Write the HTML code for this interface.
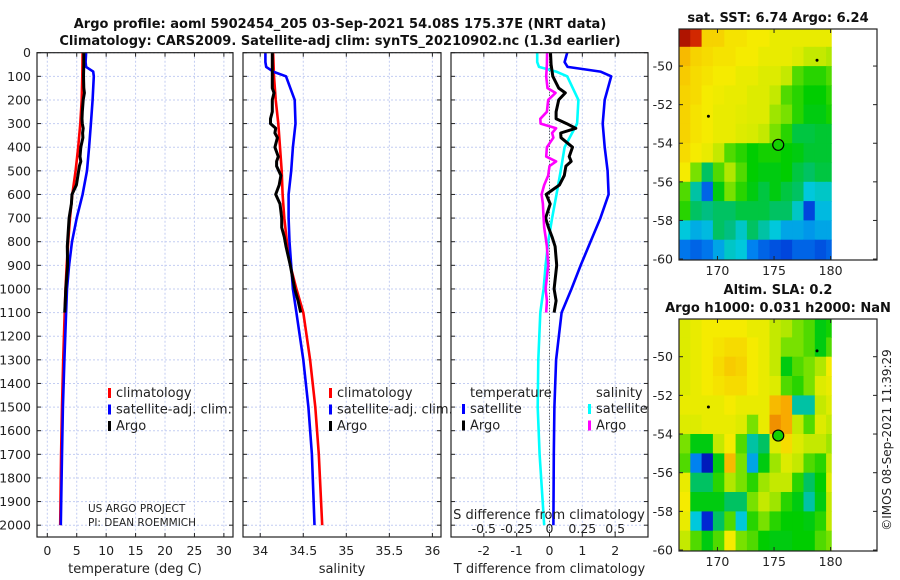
<!DOCTYPE html>
<html><head><meta charset="utf-8">
<style>
html,body{margin:0;padding:0;background:#fff;}
svg{display:block;font-family:"DejaVu Sans","Liberation Sans",sans-serif;}
</style></head>
<body>
<svg id="fig" width="900" height="580" viewBox="0 0 900 580" xmlns="http://www.w3.org/2000/svg">
<rect width="900" height="580" fill="#fff"/>
<text x="340" y="28" font-size="13" font-weight="bold" text-anchor="middle" fill="#111">Argo profile: aoml 5902454_205 03-Sep-2021 54.08S 175.37E (NRT data)</text>
<text x="340" y="45" font-size="13" font-weight="bold" text-anchor="middle" fill="#111">Climatology: CARS2009. Satellite-adj clim: synTS_20210902.nc (1.3d earlier)</text>
<text x="778" y="22" font-size="13" font-weight="bold" text-anchor="middle" fill="#111">sat. SST: 6.74 Argo: 6.24</text>
<text x="778" y="294" font-size="13" font-weight="bold" text-anchor="middle" fill="#111">Altim. SLA: 0.2</text>
<text x="778" y="312" font-size="13" font-weight="bold" text-anchor="middle" fill="#111">Argo h1000: 0.031 h2000: NaN</text>
<text transform="translate(891,440) rotate(-90)" font-size="12" text-anchor="middle" fill="#222">©IMOS 08-Sep-2021 11:39:29</text>
<g id="layer"></g>
</svg>
<script>
// ---------- data ----------
const depthTicks=[0,100,200,300,400,500,600,700,800,900,1000,1100,1200,1300,1400,1500,1600,1700,1800,1900,2000];
const tempTicks=[0,5,10,15,20,25,30];
const salTicks=[34,34.5,35,35.5,36];
const salTickLabels=["34","34.5","35","35.5","36"];
const tdiffTicks=[-2,-1,0,1,2];
const sdiffTicks=[-0.5,-0.25,0,0.25,0.5];
const sdiffTickLabels=["-0.5","-0.25","0","0.25","0.5"];

const climDepth=[0,100,200,300,400,500,600,700,800,900,1000,1100,1300,1500,1700,2000];
const climTemp=[6.0,5.95,5.85,5.6,5.25,4.8,4.25,3.85,3.55,3.3,3.1,2.95,2.7,2.5,2.35,2.2];
const climSal=[34.15,34.16,34.18,34.21,34.23,34.25,34.26,34.28,34.31,34.35,34.42,34.5,34.58,34.64,34.68,34.72];

const satDepth=[0,40,60,80,100,200,300,400,500,600,700,800,900,1000,1100,1300,1500,1700,2000];
const satTemp=[6.6,6.5,6.6,7.8,7.9,7.7,7.4,7.1,6.75,6.0,5.0,4.2,3.7,3.35,3.2,2.9,2.65,2.5,2.3];
const satSal=[34.06,34.06,34.07,34.15,34.3,34.4,34.41,34.38,34.36,34.33,34.33,34.34,34.36,34.38,34.42,34.5,34.56,34.6,34.63];

const argoDepth=[0,50,100,150,170,200,250,280,300,320,340,360,400,440,460,480,520,560,600,640,700,740,780,820,900,1000,1050,1100];
const argoTemp=[6.2,6.2,6.15,6.2,6.3,6.1,5.95,5.9,5.95,6.1,6.0,6.05,5.7,5.55,5.7,5.45,5.2,4.95,4.2,4.1,3.7,3.6,3.5,3.4,3.45,3.15,3.05,2.95];
const argoSal=[34.14,34.14,34.14,34.14,34.16,34.14,34.14,34.12,34.12,34.18,34.17,34.2,34.17,34.21,34.19,34.19,34.24,34.22,34.18,34.23,34.25,34.25,34.28,34.3,34.35,34.4,34.44,34.47];

const satTdiff=[0.54,0.46,0.55,1.55,1.88,1.68,1.62,1.68,1.77,1.8,1.55,1.25,0.95,0.67,0.37,0.2,0.15,0.13,0.12];
const satSdiff=[-0.094,-0.094,-0.08,0.05,0.135,0.22,0.21,0.115,0.085,0.053,0.02,-0.01,-0.03,-0.045,-0.07,-0.085,-0.09,-0.075,-0.04];
const argoTdiff=[0.03,0.05,0.1,0.28,0.48,0.28,0.2,0.2,0.52,0.8,0.34,0.35,0.7,0.6,0.66,0.5,0.45,0.3,-0.1,0.02,-0.12,-0.03,0.08,0.17,0.22,0.14,0.2,0.14];
const argoSdiff=[-0.018,-0.02,-0.025,-0.015,0.046,-0.01,-0.02,-0.07,-0.068,0.05,0.02,0.03,-0.02,-0.025,0.05,0.0,-0.01,-0.04,-0.06,-0.05,-0.045,-0.04,-0.03,-0.02,-0.01,-0.03,-0.02,-0.025];

const mapLonTicks=[170,175,180];
const mapLatTicks=[-50,-52,-54,-56,-58,-60];
const sstGrid=[
[0.95,0.9,0.75,0.75,0.73,0.73,0.72,0.72,0.7,0.7,0.7,0.7,0.7,0.7],
[0.78,0.75,0.74,0.73,0.73,0.72,0.72,0.7,0.7,0.7,0.68,0.66,0.66,0.65],
[0.76,0.74,0.73,0.72,0.72,0.7,0.7,0.68,0.68,0.66,0.6,0.58,0.58,0.6],
[0.75,0.74,0.72,0.71,0.7,0.7,0.68,0.68,0.66,0.6,0.58,0.56,0.56,0.58],
[0.75,0.73,0.72,0.7,0.7,0.69,0.68,0.68,0.64,0.62,0.58,0.55,0.55,0.57],
[0.75,0.73,0.72,0.7,0.7,0.68,0.67,0.66,0.62,0.58,0.52,0.52,0.53,0.53],
[0.74,0.72,0.7,0.66,0.6,0.58,0.56,0.57,0.57,0.56,0.55,0.53,0.53,0.53],
[0.72,0.62,0.5,0.6,0.65,0.6,0.56,0.55,0.55,0.56,0.52,0.5,0.52,0.52],
[0.6,0.45,0.25,0.55,0.62,0.58,0.55,0.52,0.55,0.52,0.5,0.4,0.42,0.42],
[0.58,0.5,0.48,0.5,0.5,0.52,0.52,0.52,0.5,0.5,0.42,0.2,0.38,0.38],
[0.4,0.36,0.38,0.5,0.48,0.42,0.5,0.45,0.4,0.35,0.35,0.33,0.35,0.35],
[0.28,0.25,0.28,0.35,0.42,0.4,0.3,0.25,0.22,0.2,0.25,0.25,0.22,0.25]];
const slaGrid=[
[0.68,0.7,0.72,0.72,0.72,0.72,0.7,0.7,0.66,0.65,0.62,0.6,0.55,0.57],
[0.68,0.7,0.72,0.73,0.74,0.74,0.72,0.7,0.66,0.62,0.62,0.6,0.55,0.6],
[0.68,0.7,0.72,0.74,0.76,0.75,0.72,0.7,0.66,0.55,0.6,0.62,0.65,0.72],
[0.68,0.7,0.72,0.73,0.74,0.74,0.72,0.7,0.68,0.6,0.58,0.62,0.68,0.7],
[0.7,0.7,0.7,0.7,0.72,0.7,0.7,0.7,0.78,0.8,0.45,0.45,0.66,0.68],
[0.68,0.68,0.7,0.7,0.7,0.68,0.62,0.7,0.82,0.8,0.66,0.6,0.68,0.66],
[0.62,0.55,0.55,0.66,0.72,0.6,0.45,0.5,0.68,0.74,0.68,0.66,0.66,0.64],
[0.6,0.3,0.1,0.55,0.78,0.62,0.35,0.55,0.64,0.68,0.66,0.6,0.58,0.66],
[0.7,0.5,0.5,0.58,0.65,0.62,0.58,0.64,0.66,0.66,0.58,0.5,0.56,0.68],
[0.72,0.55,0.55,0.55,0.5,0.5,0.62,0.66,0.64,0.58,0.55,0.45,0.55,0.66],
[0.7,0.4,0.15,0.5,0.6,0.4,0.58,0.62,0.58,0.56,0.56,0.55,0.58,0.66],
[0.66,0.6,0.55,0.6,0.72,0.62,0.6,0.56,0.55,0.55,0.56,0.56,0.6,0.62]];
const floatLon=175.37, floatLat=-54.08;
const islandLon=[169.2,178.8], islandLat=[-52.6,-49.7];

// ---------- helpers ----------
const NS="http://www.w3.org/2000/svg";
const layer=document.getElementById('layer');
function mk(tag,attrs,parent){const e=document.createElementNS(NS,tag);for(const k in attrs)e.setAttribute(k,attrs[k]);(parent||layer).appendChild(e);return e;}
function txt(s,attrs,parent){const e=mk('text',attrs,parent);e.textContent=s;return e;}

const TOP=52.7, BOT=537, DMAX=2050;
function yDepth(d){return TOP+d/DMAX*(BOT-TOP);}
function makeX(left,right,min,max){return v=>left+(v-min)/(max-min)*(right-left);}

const panels=[
 {name:'temperature',left:37,right:233,min:-1.75,max:31.55,ticks:tempTicks,labels:tempTicks.map(String),title:'temperature (deg C)'},
 {name:'salinity',left:243,right:441,min:33.8,max:36.1,ticks:salTicks,labels:salTickLabels,title:'salinity'},
 {name:'difference',left:451,right:648,min:-3,max:3,ticks:tdiffTicks,labels:tdiffTicks.map(String),title:'T difference from climatology'}
];

panels.forEach((p,pi)=>{
 const g=mk('g',{});
 
 
 const X=makeX(p.left,p.right,p.min,p.max);
 p.X=X;
 depthTicks.forEach(d=>{
  const l=mk('line',{x1:p.left,x2:p.right,y1:yDepth(d),y2:yDepth(d),stroke:'#c3cdf2','stroke-width':1,'stroke-dasharray':'2,2'},g);
   
 });
 p.ticks.forEach((t,i)=>{
  const x=X(t);
  const l=mk('line',{x1:x,x2:x,y1:TOP,y2:BOT,stroke:'#c3cdf2','stroke-width':1,'stroke-dasharray':'2,2'},g);
   
  mk('line',{x1:x,x2:x,y1:BOT,y2:BOT-4,stroke:'#222'},g);
  mk('line',{x1:x,x2:x,y1:TOP,y2:TOP+4,stroke:'#222'},g);
  const tl=txt(p.labels[i],{x:x,y:555,'font-size':12.5,'text-anchor':'middle',fill:'#222'},g);
   
 });
 depthTicks.forEach(d=>{
  mk('line',{x1:p.left,x2:p.left+4,y1:yDepth(d),y2:yDepth(d),stroke:'#222'},g);
  mk('line',{x1:p.right,x2:p.right-4,y1:yDepth(d),y2:yDepth(d),stroke:'#222'},g);
  if(pi===0){
   const tl=txt(String(d),{x:31,y:yDepth(d)+4.5,'font-size':12.5,'text-anchor':'end',fill:'#222'},g);
    
  }
 });
 const xt=txt(p.title,{x:(p.left+p.right)/2,y:573,'font-size':13,'text-anchor':'middle',fill:'#222'},g);
  
 p.g=g;
});

function series(p,depths,vals,color,name,w){
 const pts=depths.map((d,i)=>p.X(vals[i]).toFixed(1)+','+yDepth(d).toFixed(1)).join(' ');
 const l=mk('polyline',{points:pts,fill:'none',stroke:color,'stroke-width':w||2.6,'stroke-linejoin':'round'},p.g);
  
}
const P1=panels[0],P2=panels[1],P3=panels[2];
series(P1,climDepth,climTemp,'#ff0000','climatology-temp-line');
series(P1,satDepth,satTemp,'#0000ff','satellite-temp-line');
series(P1,argoDepth,argoTemp,'#000000','argo-temp-line',3);
series(P2,climDepth,climSal,'#ff0000','climatology-salinity-line');
series(P2,satDepth,satSal,'#0000ff','satellite-salinity-line');
series(P2,argoDepth,argoSal,'#000000','argo-salinity-line',3);
const zl=mk('line',{x1:P3.X(0),x2:P3.X(0),y1:TOP,y2:BOT,stroke:'#333','stroke-width':1,'stroke-dasharray':'1,2'},P3.g);
 
series(P3,satDepth,satTdiff,'#0000ff','satellite-tdiff-line');
series(P3,satDepth,satSdiff.map(v=>v*4),'#00ffff','satellite-sdiff-line');
series(P3,argoDepth,argoTdiff,'#000000','argo-tdiff-line',3);
series(P3,argoDepth,argoSdiff.map(v=>v*4),'#ff00ff','argo-sdiff-line');
const sl=txt('S difference from climatology',{x:549,y:519,'font-size':13,'text-anchor':'middle',fill:'#222'},P3.g);
 
sdiffTicks.forEach((t,i)=>{
 const e=txt(sdiffTickLabels[i],{x:P3.X(t*4),y:533,'font-size':12.5,'text-anchor':'middle',fill:'#222'},P3.g);
  
});
panels.forEach(p=>{
 const r=mk('rect',{x:p.left,y:TOP,width:p.right-p.left,height:BOT-TOP,fill:'none',stroke:'#222','stroke-width':1.2},p.g);
  
});
function legend(x,y,items,name){
 const g=mk('g',{});
  
 items.forEach((it,i)=>{
  const yy=y+i*16.5;
  if(it.c) mk('rect',{x:x,y:yy-9,width:3,height:10,fill:it.c},g);
  const e=txt(it.t,{x:x+(it.c?8:0),y:yy,'font-size':13,fill:'#222'},g);
   
 });
}
legend(108,397,[{t:'climatology',c:'#ff0000'},{t:'satellite-adj. clim.',c:'#0000ff'},{t:'Argo',c:'#000'}],'temperature-legend');
legend(329,397,[{t:'climatology',c:'#ff0000'},{t:'satellite-adj. clim.',c:'#0000ff'},{t:'Argo',c:'#000'}],'salinity-legend');
legend(470,397,[{t:'temperature'}],'diff-legend-temperature-header');
legend(462,413,[{t:'satellite',c:'#0000ff'},{t:'Argo',c:'#000'}],'diff-legend-temperature');
legend(596,397,[{t:'salinity'}],'diff-legend-salinity-header');
legend(588,413,[{t:'satellite',c:'#00ffff'},{t:'Argo',c:'#ff00ff'}],'diff-legend-salinity');
const pr=txt('US ARGO PROJECT',{x:88,y:512,'font-size':10.5,fill:'#222'});
 
const pi=txt('PI: DEAN ROEMMICH',{x:88,y:526,'font-size':10.5,fill:'#222'});
 

// ---------- maps ----------
const stops=[[0,[0,0,140]],[0.15,[0,40,210]],[0.3,[0,130,240]],[0.4,[0,200,220]],[0.48,[0,190,130]],[0.56,[0,205,0]],[0.62,[120,225,0]],[0.67,[215,235,0]],[0.72,[245,235,0]],[0.8,[248,170,0]],[0.9,[210,40,0]],[1,[140,0,0]]];
function cmap(v){
 for(let i=1;i<stops.length;i++){ if(v<=stops[i][0]){const a=stops[i-1],b=stops[i];const f=(v-a[0])/(b[0]-a[0]);
  return 'rgb('+a[1].map((c,k)=>Math.round(c+(b[1][k]-c)*f)).join(',')+')';}}
 return 'rgb(140,0,0)';
}
function drawMap(top,bottom,latTop,grid,name){
 const L=679,R=877,lonMin=166.6,lonMax=184.1,latBot=-60.05;
 const X=v=>L+(v-lonMin)/(lonMax-lonMin)*(R-L);
 const Y=v=>top+(latTop-v)/(latTop-latBot)*(bottom-top);
 const g=mk('g',{});
  
 const cid='clip'+name;
 const cp=mk('clipPath',{id:cid},g);
 mk('rect',{x:L,y:top,width:X(180.1)-L,height:bottom-top},cp);
 const cg=mk('g',{'clip-path':'url(#'+cid+')'},g);
 grid.forEach((row,r)=>row.forEach((v,c)=>{
  const x0=X(lonMin+c),x1=X(lonMin+c+1),y0=Y(-48-r),y1=Y(-49-r);
  const rr=mk('rect',{x:x0.toFixed(1),y:(r===0?top:y0).toFixed(1),width:(x1-x0+0.6).toFixed(1),height:((r===0?y1-top:y1-y0)+0.6).toFixed(1),fill:cmap(v)},cg);
   
 }));
 islandLon.forEach((lo,i)=>mk('circle',{cx:X(lo),cy:Y(islandLat[i]),r:1.5,fill:'#000'},g));
 const fm=mk('circle',{cx:X(floatLon),cy:Y(floatLat),r:5.5,fill:cmap(0.57),stroke:'#000','stroke-width':1.2},g);
  
 mk('rect',{x:L,y:top,width:R-L,height:bottom-top,fill:'none',stroke:'#222','stroke-width':1.2},g);
 mapLonTicks.forEach(t=>{
  const x=X(t);
  mk('line',{x1:x,x2:x,y1:bottom,y2:bottom-4,stroke:'#222'},g);
  mk('line',{x1:x,x2:x,y1:top,y2:top+4,stroke:'#222'},g);
  const e=txt(String(t),{x:x,y:bottom+15,'font-size':12.5,'text-anchor':'middle',fill:'#222'},g);
   
 });
 mapLatTicks.forEach(t=>{
  const y=Y(t);
  mk('line',{x1:L,x2:L+4,y1:y,y2:y,stroke:'#222'},g);
  mk('line',{x1:R,x2:R-4,y1:y,y2:y,stroke:'#222'},g);
  const e=txt(String(t),{x:L-6,y:y+4.5,'font-size':12.5,'text-anchor':'end',fill:'#222'},g);
   
 });
}
drawMap(29,260,-48.08,sstGrid,'sst-map');
drawMap(319,551,-48.05,slaGrid,'sla-map');
</script>
</body></html>
